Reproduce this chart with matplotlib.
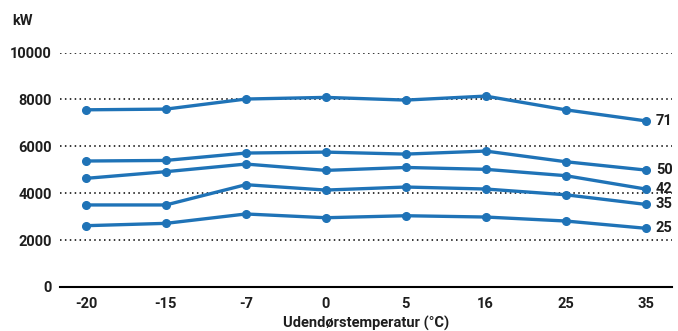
import numpy as np
import matplotlib
matplotlib.use("Agg")
import matplotlib.pyplot as plt

plt.rcParams['font.family'] = ['Roboto', 'DejaVu Sans']

temps = ['-20', '-15', '-7', '0', '5', '16', '25', '35']
names = ['71', '50', '42', '35', '25']
s71 = [7560, 7590, 8020, 8090, 7975, 8145, 7560, 7090]
s50 = [5375, 5400, 5715, 5755, 5670, 5800, 5345, 4990]
s42 = [4635, 4920, 5245, 4975, 5100, 5020, 4750, 4180]
s35 = [3500, 3500, 4365, 4135, 4265, 4180, 3935, 3525]
s25 = [2615, 2715, 3115, 2955, 3040, 2985, 2815, 2505]
series = [s71, s50, s42, s35, s25]

blue = '#1f73b7'
txt = '#1e1e1e'

fig = plt.figure(figsize=(6.78, 3.31), dpi=100)
ax = fig.add_axes([0.0885, 0.133, 0.9025, 0.708])

x = np.arange(len(temps))
for name, vals in zip(names, series):
    ax.plot(x, vals, color=blue, lw=2.4, marker='o', ms=5.5, solid_capstyle='round')
    ax.text(x[-1] + 0.13, vals[-1], name, va='center', ha='left', fontsize=10.5,
            fontweight='bold', color=txt, clip_on=False)

ax.set_xlim(-0.325, 7.33)
ax.set_ylim(0, 10000)
ax.set_yticks([0, 2000, 4000, 6000, 8000, 10000])
ax.set_xticks(x)
ax.set_xticklabels(temps)
for v in [2000, 4000, 6000, 8000, 10000]:
    ax.axhline(v, color='black', lw=1.1, ls=(0, (1, 2.2)), zorder=0)

for s in ['left', 'right', 'top']:
    ax.spines[s].set_visible(False)
ax.spines['bottom'].set_linewidth(1.5)
ax.tick_params(axis='both', length=0, labelsize=10.5, colors=txt)
ax.tick_params(axis='x', pad=7)
ax.tick_params(axis='y', pad=6)
for lab in ax.get_xticklabels() + ax.get_yticklabels():
    lab.set_fontweight('bold')

ax.set_xlabel('Udendørstemperatur (°C)', fontsize=10.5, fontweight='bold',
              color=txt, labelpad=4)
fig.text(0.018, 0.925, 'kW', fontsize=10.5, fontweight='bold', color=txt)

fig.savefig('out.png', dpi=100)
